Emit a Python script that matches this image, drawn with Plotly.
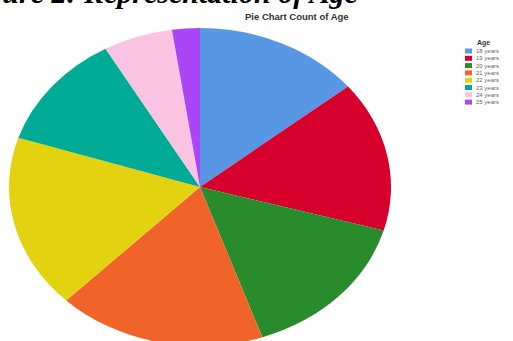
import plotly.graph_objects as go

categories = ["18 years", "19 years", "20 years", "21 years", "22 years", "23 years", "24 years", "25 years"]
counts = [12, 13, 13, 15, 15, 10, 5, 2]
colors = ["#5897e3", "#d7002d", "#288c2d", "#f0642a", "#e3d20f", "#00ab96", "#f9c3e1", "#aa46f5"]

W, H = 513, 341
# pie geometry (pixels)
cx, cy, R = 200, 187, 150
rx, ry = 191, 159

fig = go.Figure()
fig.add_trace(go.Pie(
    labels=categories, values=counts, sort=False, direction="clockwise", rotation=0,
    marker=dict(colors=colors, line=dict(width=0)), textinfo="none",
    domain=dict(x=[(cx - R) / W, (cx + R) / W], y=[1 - (cy + R) / H, 1 - (cy - R) / H]),
    showlegend=False, hoverinfo="label+value+percent",
))

annotations = [
    dict(text="<b><i>Figure 2: Representation of Age</i></b>", x=360 / W, y=1 - 11 / H,
         xref="paper", yref="paper", xanchor="right", yanchor="bottom", showarrow=False,
         font=dict(family="Liberation Serif", size=30, color="#000")),
    dict(text="<b>Pie Chart Count of Age</b>", x=297 / W, y=1 - 17 / H,
         xref="paper", yref="paper", xanchor="center", yanchor="middle", showarrow=False,
         font=dict(family="Liberation Sans", size=9.5, color="#333")),
    dict(text="<b>Age</b>", x=483 / W, y=1 - 43 / H,
         xref="paper", yref="paper", xanchor="center", yanchor="middle", showarrow=False,
         font=dict(family="Liberation Sans", size=7, color="#333")),
]
shapes = []
for i, (lab, col) in enumerate(zip(categories, colors)):
    yc = 51 + 7.3 * i
    shapes.append(dict(type="rect", xref="paper", yref="paper",
                       x0=465 / W, x1=472 / W, y0=1 - (yc + 2.5) / H, y1=1 - (yc - 2.5) / H,
                       fillcolor=col, line=dict(width=0)))
    annotations.append(dict(text=lab, x=474 / W, y=1 - yc / H, xref="paper", yref="paper",
                            xanchor="left", yanchor="middle", showarrow=False,
                            font=dict(family="Liberation Sans", size=6, color="#666")))

fig.update_layout(
    width=W, height=H, margin=dict(l=0, r=0, t=0, b=0),
    paper_bgcolor="white", plot_bgcolor="white",
    annotations=annotations, shapes=shapes,
)

sx, sy = rx / R, ry / R
post = (
    "document.body.style.margin='0';document.body.style.overflow='hidden';"
    "var gd=document.getElementById('{plot_id}');"
    "gd.querySelectorAll('.pielayer g.trace').forEach(function(g){"
    "g.setAttribute('transform','translate(%f,%f) scale(%f,%f) translate(%f,%f)');});"
    % (cx, cy, sx, sy, -cx, -cy)
)
fig.write_html("out.html", post_script=post, config={"displayModeBar": False})
